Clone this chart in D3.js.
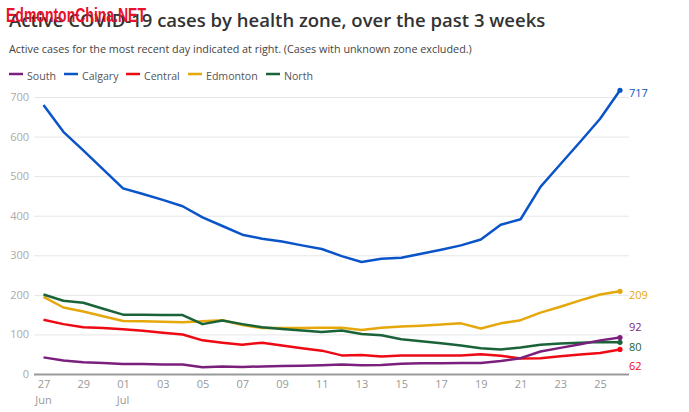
<!DOCTYPE html>
<html>
<head>
<meta charset="utf-8">
<script src="https://cdn.jsdelivr.net/npm/d3@7"></script>
<style>
  html, body { margin: 0; padding: 0; background: #fff; }
  svg { display: block; font-family: "Open Sans", sans-serif; }
</style>
</head>
<body>
<div id="chart"></div>
<script>
// day number 0 = 27 Jun, 29 = 26 Jul
const days = d3.range(0, 30);
const xTicks = [0, 2, 4, 6, 8, 10, 12, 14, 16, 18, 20, 22, 24, 26, 28];
const xTickLabels = ["27", "29", "01", "03", "05", "07", "09", "11", "13", "15", "17", "19", "21", "23", "25"];
const monthLabels = { 0: "Jun", 4: "Jul" };
const yTicks = [0, 100, 200, 300, 400, 500, 600, 700];

const south = [42, 34, 30, 28, 25, 25, 24, 24, 17, 19, 18, 19, 20, 21, 22, 24, 22, 23, 26, 27, 27, 28, 28, 33, 40, 57, 66, 75, 85, 92];
const calgary = [680, 612, 565, 517, 469, 455, 440, 424, 396, 374, 352, 342, 335, 325, 316, 298, 283, 291, 294, 304, 314, 325, 340, 377, 391, 473, 530, 587, 645, 717];
const central = [137, 126, 118, 116, 113, 109, 104, 100, 85, 79, 74, 79, 72, 65, 59, 47, 48, 44, 47, 47, 47, 47, 50, 46, 39, 40, 45, 49, 53, 62];
const edmonton = [195, 168, 158, 146, 134, 133, 132, 131, 133, 136, 124, 116, 116, 116, 117, 117, 111, 117, 120, 122, 125, 128, 115, 128, 136, 155, 170, 186, 201, 209];
const north = [201, 185, 180, 165, 150, 150, 149, 149, 126, 135, 126, 118, 114, 110, 106, 110, 101, 98, 88, 83, 78, 72, 65, 62, 67, 74, 77, 79, 81, 80];

const seriesNames = ["South", "Calgary", "Central", "Edmonton", "North"];
const seriesValues = [south, calgary, central, edmonton, north];
const seriesColors = ["#7b1f7d", "#0a54c9", "#ee0a14", "#e6a70a", "#1a6339"];
const legendX = [9, 64, 126, 188, 266];
const labelOffset = [-10, 3, 17, 4, 5]; // end labels are nudged apart

const width = 689, height = 412;
const x = d3.scaleLinear().domain([0, 29]).range([43.5, 620]);
const y = d3.scaleLinear().domain([0, 700]).range([374, 97]);

const svg = d3.select("#chart").append("svg")
  .attr("width", width)
  .attr("height", height);

// header
svg.append("text")
  .attr("x", 9).attr("y", 27)
  .attr("font-size", 18.5).attr("font-weight", 600).attr("fill", "#333")
  .text("Active COVID-19 cases by health zone, over the past 3 weeks");

svg.append("text")
  .attr("x", 9).attr("y", 53)
  .attr("font-size", 10.8).attr("fill", "#444")
  .text("Active cases for the most recent day indicated at right. (Cases with unknown zone excluded.)");

// legend
const legend = svg.append("g").selectAll("g")
  .data(seriesNames)
  .enter().append("g")
  .attr("transform", (d, i) => "translate(" + legendX[i] + ",74)");

legend.append("line")
  .attr("x1", 0).attr("x2", 14)
  .attr("stroke-width", 2.5)
  .attr("stroke", (d, i) => seriesColors[i]);

legend.append("text")
  .attr("x", 18).attr("y", 6)
  .attr("font-size", 10.6).attr("fill", "#555")
  .text(d => d);

// axes
const yAxis = svg.append("g")
  .call(d3.axisLeft(y).tickValues(yTicks).tickSize(0).tickPadding(0));
yAxis.select(".domain").remove();
yAxis.selectAll("text")
  .attr("x", 29)
  .attr("font-size", 11).attr("font-family", "Open Sans").attr("fill", "#aaa");
yAxis.selectAll("line")
  .attr("x1", 34).attr("x2", 629)
  .attr("stroke", d => d === 0 ? "#999" : "#e6e6e6")
  .attr("stroke-width", d => d === 0 ? 2 : 1);

const xAxis = svg.append("g")
  .attr("transform", "translate(0,374)")
  .call(d3.axisBottom(x).tickValues(xTicks).tickSize(0).tickPadding(6)
    .tickFormat((d, i) => xTickLabels[i]));
xAxis.select(".domain").remove();
xAxis.selectAll("text")
  .attr("font-size", 11).attr("font-family", "Open Sans").attr("fill", "#999");

svg.append("g").selectAll("text")
  .data(Object.keys(monthLabels))
  .enter().append("text")
  .attr("x", d => x(+d))
  .attr("y", 403.5)
  .attr("text-anchor", "middle")
  .attr("font-size", 11).attr("fill", "#999")
  .text(d => monthLabels[d]);

// lines, drawn South last so it sits on top at the end like the original
const line = d3.line()
  .x((d, i) => x(days[i]))
  .y(d => y(d));

const drawOrder = [1, 3, 2, 4, 0];

svg.append("g").selectAll("path")
  .data(drawOrder)
  .enter().append("path")
  .attr("fill", "none")
  .attr("stroke-width", 2.5)
  .attr("stroke-linejoin", "round")
  .attr("stroke", i => seriesColors[i])
  .attr("d", i => line(seriesValues[i]));

svg.append("g").selectAll("circle")
  .data(drawOrder)
  .enter().append("circle")
  .attr("r", 2.6)
  .attr("cx", x(29))
  .attr("cy", i => y(seriesValues[i][29]))
  .attr("fill", i => seriesColors[i]);

svg.append("g").selectAll("text")
  .data(drawOrder)
  .enter().append("text")
  .attr("x", 629)
  .attr("y", i => y(seriesValues[i][29]) + labelOffset[i])
  .attr("dy", "0.32em")
  .attr("font-size", 11)
  .attr("fill", i => seriesColors[i])
  .text(i => seriesValues[i][29]);

// watermark over the title, squeezed to its width in the original
svg.append("text")
  .attr("x", 6).attr("y", 22)
  .attr("font-family", "Liberation Sans")
  .attr("font-size", 21).attr("font-weight", 700)
  .attr("fill", "#e8102a")
  .attr("textLength", 140)
  .attr("lengthAdjust", "spacingAndGlyphs")
  .text("EdmontonChina.NET");
</script>
</body>
</html>
